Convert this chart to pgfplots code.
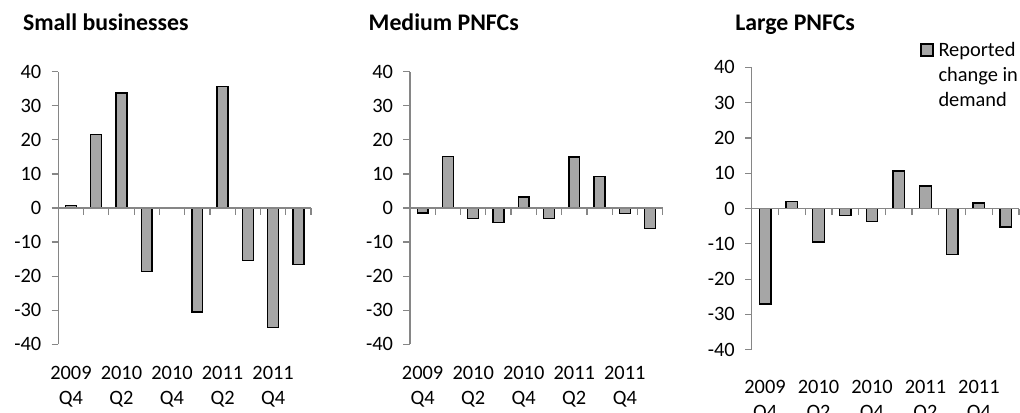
\documentclass[border=0pt]{standalone}
\usepackage{fontspec}
\setmainfont{Carlito}
\usepackage{pgfplots}
\pgfplotsset{compat=1.18}
\definecolor{axgray}{HTML}{868686}
\definecolor{barfill}{HTML}{A6A6A6}
\pgfplotsset{
  panel/.style={
    scale only axis, anchor=south west,
    ymin=-40, ymax=40, xmin=0.5, xmax=10.5,
    axis y line=left, axis x line=middle,
    axis line style={draw=axgray, line width=0.6pt, -},
    every tick/.style={draw=axgray, line width=0.6pt},
    major tick length=3.3pt,
    tick align=outside,
    ytick={-40,-30,...,40},
    yticklabels={-40,-30,-20,-10,0,10,20,30,40},
    yticklabel style={inner sep=0pt, xshift=-5pt},
    xtick={0.5,1.5,...,10.5},
    xticklabels={},
    extra x ticks={1,3,5,7,9},
    extra x tick labels={{2009\\Q4},{2010\\Q2},{2010\\Q4},{2011\\Q2},{2011\\Q4}},
    extra x tick style={major tick length=0pt, every tick/.style={draw=none},
      xticklabel style={anchor=north, align=center, inner sep=0pt, yshift=-79pt}},
    ybar, bar width=0.43, bar shift=0pt,
    axis on top,
    font=\fontsize{10.2}{12.5}\selectfont,
    clip=false,
  },
  barsty/.style={fill=barfill, draw=black, line width=0.7pt},
}
\begin{document}
\begin{tikzpicture}
\useasboundingbox (0,0) rectangle (510pt,206pt);
% Panel 1
\begin{axis}[panel, at={(29.15pt,33.85pt)}, width=126.35pt, height=136.3pt]
\addplot[barsty] coordinates {(1,0.7) (2,21.5) (3,33.7) (4,-18.6) (6,-30.5) (7,35.6) (8,-15.4) (9,-35.0) (10,-16.6)};
\end{axis}
% Panel 2
\begin{axis}[panel, at={(205pt,33.85pt)}, width=126.35pt, height=136.3pt]
\addplot[barsty] coordinates {(1,-1.5) (2,15.2) (3,-3.1) (4,-4.2) (5,3.2) (6,-3.1) (7,15.0) (8,9.3) (9,-1.6) (10,-6.0)};
\end{axis}
% Panel 3
\begin{axis}[panel, at={(375.85pt,31.15pt)}, width=133.65pt, height=141.2pt,
  extra x tick style={xticklabel style={yshift=-6.5pt}},
  legend style={draw=none, fill=none, inner sep=0pt, outer sep=0pt,
    at={(axis description cs:0.63,1.0896)}, anchor=north west,
    nodes={align=left, inner sep=0pt, anchor=base west}, column sep=2.5pt,
    font=\fontsize{10.2}{12.5}\selectfont},
  legend image code/.code={\draw[fill=barfill, draw=black, line width=0.7pt] (0pt,25pt) rectangle (6pt,31pt);},
]
\addplot[barsty] coordinates {(1,-27.0) (2,2.0) (3,-9.5) (4,-2.0) (5,-3.7) (6,10.6) (7,6.4) (8,-13.1) (9,1.6) (10,-5.2)};
\addlegendentry{Reported\\change in\\demand}
\end{axis}
\node[anchor=base west, inner sep=0pt, font=\bfseries\fontsize{11.9}{13}\selectfont] at (11.35pt,190.75pt) {Small businesses};
\node[anchor=base west, inner sep=0pt, font=\bfseries\fontsize{11.9}{13}\selectfont] at (184.15pt,190.75pt) {Medium PNFCs};
\node[anchor=base west, inner sep=0pt, font=\bfseries\fontsize{11.9}{13}\selectfont] at (367.5pt,190.5pt) {Large PNFCs};
\end{tikzpicture}
\end{document}
